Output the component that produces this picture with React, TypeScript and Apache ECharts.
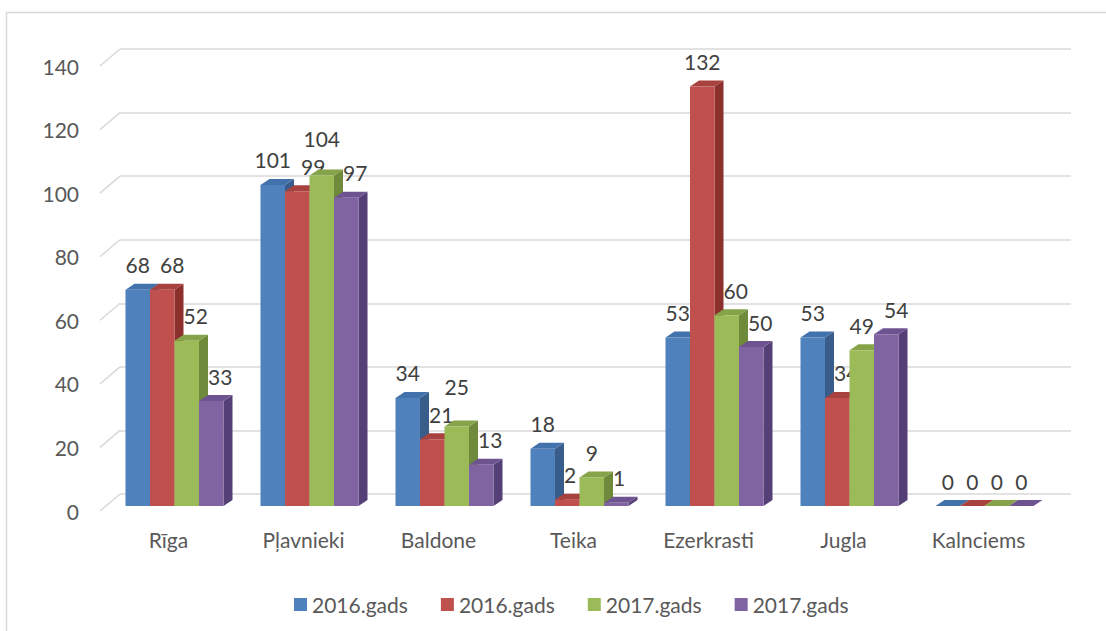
import React, { useEffect, useRef } from "react";
import * as echarts from "echarts";

// ---- data ----
const categories = ["Rīga", "Pļavnieki", "Baldone", "Teika", "Ezerkrasti", "Jugla", "Kalnciems"];
const seriesNames = ["2016.gads", "2016.gads", "2017.gads", "2017.gads"];
const seriesA = [68, 101, 34, 18, 53, 53, 0];
const seriesB = [68, 99, 21, 2, 132, 34, 0];
const seriesC = [52, 104, 25, 9, 60, 49, 0];
const seriesD = [33, 97, 13, 1, 50, 54, 0];
const yTicks = [0, 20, 40, 60, 80, 100, 120, 140];

const allSeries = [seriesA, seriesB, seriesC, seriesD];

// ---- styles ----
const palette = [
  { front: "#4F81BD", top: "#4272AB", side: "#385D8A" },
  { front: "#C0504D", top: "#A8423F", side: "#8C302D" },
  { front: "#9BBB59", top: "#86A34A", side: "#6E8A3A" },
  { front: "#8064A2", top: "#6D5490", side: "#553F77" },
];
const FONT = "Lato, 'Open Sans', sans-serif";
const AXIS_TEXT = "#595959";
const LABEL_TEXT = "#404040";
const GRID_LINE = "#d9d9d9";

const FRONT_DX = -15;
const FRONT_DY = 12;
const SIDE_DX = 9;
const SIDE_DY = -6;
const LABEL_RISE = 25;
const CHAR_W = 12.2;
const LABEL_H = 22;
const LABEL_SEP = 28;
const LABEL_GAP = 10;

function barGeom(api: any, cat: number, j: number) {
  const base = api.coord([cat, 0]);
  const band = api.size([1, 0])[0];
  const bw = band * 0.1815;
  const v = allSeries[j][cat];
  const top = api.coord([cat, v]);
  const x = base[0] - 2 * bw + j * bw + FRONT_DX;
  const yb = base[1] + FRONT_DY;
  const yt = top[1] + FRONT_DY;
  return { x, yb, yt, bw, v };
}

// simple overlap avoidance for the value labels of one category
function labelPositions(api: any, cat: number) {
  const out: { x: number; y: number }[] = [];
  let prevLabel: { y: number; right: number } | null = null;
  for (let j = 0; j < allSeries.length; j++) {
    const g = barGeom(api, cat, j);
    const w = String(g.v).length * CHAR_W;
    let ly = g.yt - LABEL_RISE;
    let cx = g.x + g.bw / 2;
    if (j > 0) {
      const p = barGeom(api, cat, j - 1);
      if (p.yt < g.yt - 8) cx = Math.max(cx, p.x + p.bw + SIDE_DX + w / 2);
      if (prevLabel && Math.abs(prevLabel.y - ly) < LABEL_H && cx - w / 2 < prevLabel.right + LABEL_GAP) {
        const rightShift = prevLabel.right + LABEL_GAP - (cx - w / 2);
        const upShift = ly - (prevLabel.y - LABEL_SEP);
        if (upShift < rightShift) ly -= upShift;
        else cx += rightShift;
      }
    }
    out.push({ x: cx, y: ly });
    prevLabel = { y: ly, right: cx + w / 2 };
  }
  return out;
}

function makeBarSeries(j: number) {
  return {
    type: "custom",
    name: "s" + j,
    xAxisIndex: 1,
    yAxisIndex: 1,
    itemStyle: { color: palette[j].front },
    data: allSeries[j].map((v, i) => [i, v]),
    encode: { x: 0, y: 1 },
    renderItem: (params: any, api: any) => {
      const cat = params.dataIndex;
      const g = barGeom(api, cat, j);
      const c = palette[j];
      const lp = labelPositions(api, cat)[j];
      const children: any[] = [
        {
          type: "polygon",
          shape: {
            points: [
              [g.x + g.bw, g.yt],
              [g.x + g.bw + SIDE_DX, g.yt + SIDE_DY],
              [g.x + g.bw + SIDE_DX, g.yb + SIDE_DY],
              [g.x + g.bw, g.yb],
            ],
          },
          style: { fill: c.side },
        },
        {
          type: "polygon",
          shape: {
            points: [
              [g.x, g.yt],
              [g.x + g.bw, g.yt],
              [g.x + g.bw + SIDE_DX, g.yt + SIDE_DY],
              [g.x + SIDE_DX, g.yt + SIDE_DY],
            ],
          },
          style: { fill: c.top },
        },
      ];
      if (g.yb - g.yt > 0.5) {
        children.push({
          type: "rect",
          shape: { x: g.x, y: g.yt, width: g.bw, height: g.yb - g.yt },
          style: { fill: c.front },
        });
      }
      children.push({
        type: "text",
        x: lp.x,
        y: lp.y,
        style: {
          text: String(g.v),
          fill: LABEL_TEXT,
          font: `21px ${FONT}`,
          align: "center",
          verticalAlign: "middle",
        },
      });
      return { type: "group", children };
    },
  };
}

export default function App() {
  const ref = useRef<HTMLDivElement>(null);
  useEffect(() => {
    if (!ref.current) return;
    const chart = echarts.init(ref.current, undefined, { renderer: "svg" });
    const option: any = {
      animation: false,
      backgroundColor: "#ffffff",
      textStyle: { fontFamily: FONT },
      graphic: [
        {
          type: "rect",
          shape: { x: 6.5, y: 12.5, width: 1110, height: 640 },
          style: { fill: "none", stroke: GRID_LINE, lineWidth: 1.5 },
          silent: true,
          z: -10,
        },
      ],
      legend: {
        data: ["s0", "s1", "s2", "s3"],
        formatter: (name: string) => seriesNames[Number(name.slice(1))],
        left: 289,
        top: 589,
        icon: "rect",
        itemWidth: 13,
        itemHeight: 13,
        itemGap: 33,
        textStyle: { color: AXIS_TEXT, fontSize: 21, fontFamily: FONT },
        selectedMode: false,
      },
      grid: [
        { left: 120, right: 35, top: 49, bottom: 137 },
        { left: 122, right: 39, top: 49, bottom: 137 },
        { left: 101, right: 60, top: 66, bottom: 120 },
      ],
      xAxis: [
        { gridIndex: 0, type: "category", data: categories, show: false },
        { gridIndex: 1, type: "category", data: categories, show: false },
        {
          gridIndex: 2,
          type: "category",
          data: categories,
          axisLine: { show: false },
          axisTick: { show: false },
          axisLabel: { interval: 0, color: AXIS_TEXT, fontSize: 21, fontFamily: FONT, margin: 18 },
        },
      ],
      yAxis: [
        {
          gridIndex: 0,
          type: "value",
          min: 0,
          max: 140,
          interval: 20,
          axisLabel: { show: false },
          axisLine: { show: false },
          axisTick: { show: false },
          splitLine: { show: true, lineStyle: { color: GRID_LINE, width: 1.5 } },
        },
        { gridIndex: 1, type: "value", min: 0, max: 140, interval: 20, show: false, splitLine: { show: false } },
        {
          gridIndex: 2,
          type: "value",
          min: 0,
          max: 140,
          interval: 20,
          axisLine: { show: false },
          axisTick: { show: false },
          splitLine: { show: false },
          axisLabel: { color: AXIS_TEXT, fontSize: 21, fontFamily: FONT, margin: 22 },
        },
      ],
      series: [
        {
          type: "custom",
          name: "stubs",
          xAxisIndex: 0,
          yAxisIndex: 0,
          silent: true,
          data: yTicks.map((v) => [0, v]),
          encode: { x: 0, y: 1 },
          renderItem: (params: any, api: any) => {
            const y = api.coord([0, api.value(1)])[1];
            const x0 = params.coordSys.x;
            return {
              type: "line",
              shape: { x1: x0 - 20, y1: y + 17, x2: x0, y2: y },
              style: { stroke: GRID_LINE, lineWidth: 1.5 },
            };
          },
        },
        makeBarSeries(0),
        makeBarSeries(1),
        makeBarSeries(2),
        makeBarSeries(3),
      ],
    };
    chart.setOption(option);
    return () => chart.dispose();
  }, []);
  return (
    <div
      ref={ref}
      style={{ position: "fixed", left: 0, top: 0, width: 1106, height: 631 }}
    />
  );
}
